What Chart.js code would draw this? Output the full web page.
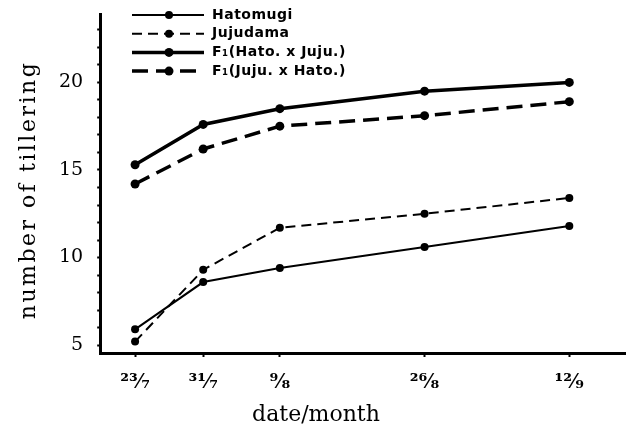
<!DOCTYPE html>
<html>
<head>
<meta charset="utf-8">
<script src="https://cdn.jsdelivr.net/npm/chart.js@4"></script>
<style>
    body { margin: 0; background: #fff; }
    #wrap { width: 630px; height: 430px; }
</style>
</head>
<body>
<div id="wrap"><canvas id="tillerChart"></canvas></div>
<script>
// days counted from 23 July
const sampleDays = [0, 8, 17, 34, 51];
const dateLabels = ['²³⁄₇', '³¹⁄₇', '⁹⁄₈', '²⁶⁄₈', '¹²⁄₉'];
const yLabels = [5, 10, 15, 20];

const seriesNames = ['Hatomugi', 'Jujudama', 'F₁(Hato. x Juju.)', 'F₁(Juju. x Hato.)'];
const hatomugi = [5.9, 8.6, 9.4, 10.6, 11.8];
const jujudama = [5.2, 9.3, 11.7, 12.5, 13.4];
const f1HatoJuju = [15.3, 17.6, 18.5, 19.5, 20.0];
const f1JujuHato = [14.2, 16.2, 17.5, 18.1, 18.9];

const xTitle = 'date/month';
const yTitle = 'number of tillering';

function toPoints(values) {
    return values.map((v, i) => ({x: sampleDays[i], y: v}));
}

function makeSet(label, values, width, dash, radius) {
    return {
        label: label,
        data: toPoints(values),
        borderColor: '#000',
        backgroundColor: '#000',
        borderWidth: width,
        borderDash: dash,
        pointRadius: radius,
        pointBackgroundColor: '#000',
        pointBorderWidth: 0,
        tension: 0,
        fill: false
    };
}

// legend and axis titles drawn on top, like the hand lettering in the paper
const paperLabels = {
    id: 'paperLabels',
    afterDraw(chart) {
        const ctx = chart.ctx;
        ctx.save();
        ctx.fillStyle = '#000';
        ctx.strokeStyle = '#000';
        chart.data.datasets.forEach((ds, i) => {
            const y = 15 + i * 18.7;
            ctx.lineWidth = ds.borderWidth;
            ctx.setLineDash(ds.borderDash || []);
            ctx.beginPath();
            ctx.moveTo(132, y);
            ctx.lineTo(204, y);
            ctx.stroke();
            ctx.setLineDash([]);
            ctx.beginPath();
            ctx.arc(169, y, ds.pointRadius, 0, Math.PI * 2);
            ctx.fill();
            ctx.font = 'bold 14px "DejaVu Sans"';
            ctx.letterSpacing = '0.5px';
            ctx.textAlign = 'left';
            ctx.textBaseline = 'middle';
            ctx.fillText(ds.label, 212, y);
        });

        ctx.font = '22px "DejaVu Serif"';
        ctx.letterSpacing = '0px';
        ctx.textAlign = 'center';
        ctx.textBaseline = 'middle';
        ctx.fillText(xTitle, 316, 415);

        ctx.translate(29, 190);
        ctx.rotate(-Math.PI / 2);
        ctx.letterSpacing = '2.5px';
        ctx.fillText(yTitle, 0, 0);
        ctx.restore();
    }
};

const ctx = document.getElementById('tillerChart').getContext('2d');
const tillerChart = new Chart(ctx, {
    type: 'line',
    data: {
        datasets: [
            makeSet(seriesNames[0], hatomugi, 2, [], 4),
            makeSet(seriesNames[1], jujudama, 2, [10, 6], 4),
            makeSet(seriesNames[2], f1HatoJuju, 3.5, [], 4.5),
            makeSet(seriesNames[3], f1JujuHato, 3.5, [16, 8], 4.5)
        ]
    },
    options: {
        responsive: true,
        maintainAspectRatio: false,
        animation: false,
        layout: {padding: {top: 0, left: 45, right: 0, bottom: 21}},
        plugins: {
            legend: {display: false},
            tooltip: {enabled: false}
        },
        scales: {
            x: {
                type: 'linear',
                min: -4.1,
                max: 57.6,
                afterBuildTicks: function (scale) {
                    scale.ticks = sampleDays.map(v => ({value: v}));
                },
                border: {color: '#000', width: 3},
                grid: {drawOnChartArea: false, color: '#000', tickLength: 4, tickWidth: 2},
                ticks: {
                    autoSkip: false,
                    maxRotation: 0,
                    padding: 14,
                    color: '#000',
                    font: {family: 'DejaVu Serif', size: 20, weight: 'bold'},
                    callback: function (value) {
                        const i = sampleDays.indexOf(value);
                        return i >= 0 ? dateLabels[i] : '';
                    }
                }
            },
            y: {
                min: 4.55,
                max: 23.9,
                afterBuildTicks: function (scale) {
                    const list = [];
                    for (let v = 5; v <= 23; v++) list.push({value: v});
                    scale.ticks = list;
                },
                border: {color: '#000', width: 3},
                grid: {drawOnChartArea: false, color: '#000', tickLength: 3, tickWidth: 2},
                ticks: {
                    autoSkip: false,
                    padding: 14,
                    color: '#000',
                    font: {family: 'DejaVu Serif', size: 19, lineHeight: 0.01},
                    callback: function (value) {
                        return yLabels.includes(value) ? String(value) : '';
                    }
                }
            }
        }
    },
    plugins: [paperLabels]
});
</script>
</body>
</html>
